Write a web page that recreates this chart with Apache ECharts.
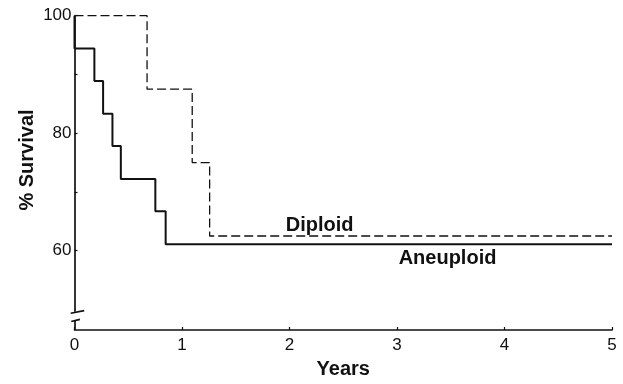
<!DOCTYPE html>
<html>
<head>
<meta charset="utf-8">
<script src="https://cdn.jsdelivr.net/npm/echarts@6/dist/echarts.min.js"></script>
<style>
html,body{margin:0;padding:0;background:#fff;}
#chart{width:623px;height:384px;}
</style>
</head>
<body>
<div id="chart"></div>
<script>
// survival steps: [years, % survival]
var aneuploid = [[0, 100], [0, 94.4], [0.185, 88.9], [0.266, 83.3], [0.353, 77.8], [0.431, 72.2], [0.752, 66.7], [0.848, 61.1], [5, 61.1]];
var diploid = [[0, 100], [0.675, 87.5], [1.095, 75], [1.257, 62.5], [5, 62.5]];

var xTicks = [0, 1, 2, 3, 4, 5];
var yTicks = [60, 70, 80, 90, 100];
var yLabels = [60, 80, 100];

var font = 'Liberation Sans, Arial, sans-serif';
var ink = '#111';

var chart = echarts.init(document.getElementById('chart'));

var option = {
	backgroundColor: '#fff',
	animation: false,
	grid: {
		left: 74.5,
		right: 11,
		top: 15.7,
		bottom: 50.7
	},
	xAxis: {
		type: 'value',
		min: 0,
		max: 5,
		interval: 1,
		name: 'Years',
		nameLocation: 'middle',
		nameGap: 29,
		nameTextStyle: {color: ink, fontFamily: font, fontSize: 20, fontWeight: 'bold'},
		axisLine: {show: true, lineStyle: {color: ink, width: 1.6}},
		axisTick: {show: true, inside: true, length: 3, lineStyle: {color: ink, width: 1.2}},
		axisLabel: {color: ink, fontFamily: font, fontSize: 17, margin: 7,
			formatter: function (v) { return xTicks.indexOf(v) >= 0 ? String(v) : ''; }},
		splitLine: {show: false}
	},
	yAxis: {
		type: 'value',
		min: 46.5,
		max: 100,
		axisLine: {show: false},
		axisTick: {show: true, inside: true, length: 3, customValues: yTicks, lineStyle: {color: ink, width: 1.2}},
		axisLabel: {color: ink, fontFamily: font, fontSize: 17, margin: 3, customValues: yLabels},
		splitLine: {show: false}
	},
	series: [
		{
			name: 'Aneuploid',
			type: 'line',
			step: 'end',
			data: aneuploid,
			symbol: 'none',
			clip: false,
			lineStyle: {color: ink, width: 2},
			markLine: {
				silent: true,
				symbol: ['none', 'none'],
				label: {show: false},
				lineStyle: {color: ink, width: 1.7, type: 'solid'},
				data: [
					// y axis line stops above the break
					[{coord: [0, 49.6]}, {coord: [0, 100]}],
					[{coord: [0, 46.5]}, {coord: [0, 48.1]}]
				]
			},
			markPoint: {
				silent: true,
				symbol: 'rect',
				symbolSize: 1,
				itemStyle: {color: 'rgba(0,0,0,0)'},
				label: {show: true, position: 'inside', color: ink, fontFamily: font, fontSize: 20, fontWeight: 'bold',
					formatter: function (p) { return p.name; }},
				data: [{name: 'Aneuploid', coord: [3.47, 58.7]}]
			}
		},
		{
			name: 'Diploid',
			type: 'line',
			step: 'end',
			data: diploid,
			symbol: 'none',
			lineStyle: {color: ink, width: 1.3, type: [9, 4]},
			markPoint: {
				silent: true,
				symbol: 'rect',
				symbolSize: 1,
				itemStyle: {color: 'rgba(0,0,0,0)'},
				label: {show: true, position: 'inside', color: ink, fontFamily: font, fontSize: 20, fontWeight: 'bold',
					formatter: function (p) { return p.name; }},
				data: [{name: 'Diploid', coord: [2.28, 64.3]}]
			}
		}
	]
};

chart.setOption(option);

// axis-break strokes, placed through the axes' own scales
function px(pt) {
	return chart.convertToPixel({gridIndex: 0}, pt);
}
function stroke(a, b) {
	var p = px(a), q = px(b);
	return {
		type: 'line',
		silent: true,
		shape: {x1: p[0], y1: p[1], x2: q[0], y2: q[1]},
		style: {stroke: ink, lineWidth: 1.7}
	};
}
chart.setOption({
	graphic: [
		{
			type: 'text',
			x: 27,
			y: 160,
			rotation: Math.PI / 2,
			style: {
				text: '% Survival',
				fill: ink,
				font: 'bold 20px ' + font,
				textAlign: 'center',
				textVerticalAlign: 'middle'
			}
		},
		stroke([-0.035, 49.35], [0.09, 49.8]),
		stroke([-0.03, 47.95], [0.05, 48.3])
	]
});
</script>
</body>
</html>
